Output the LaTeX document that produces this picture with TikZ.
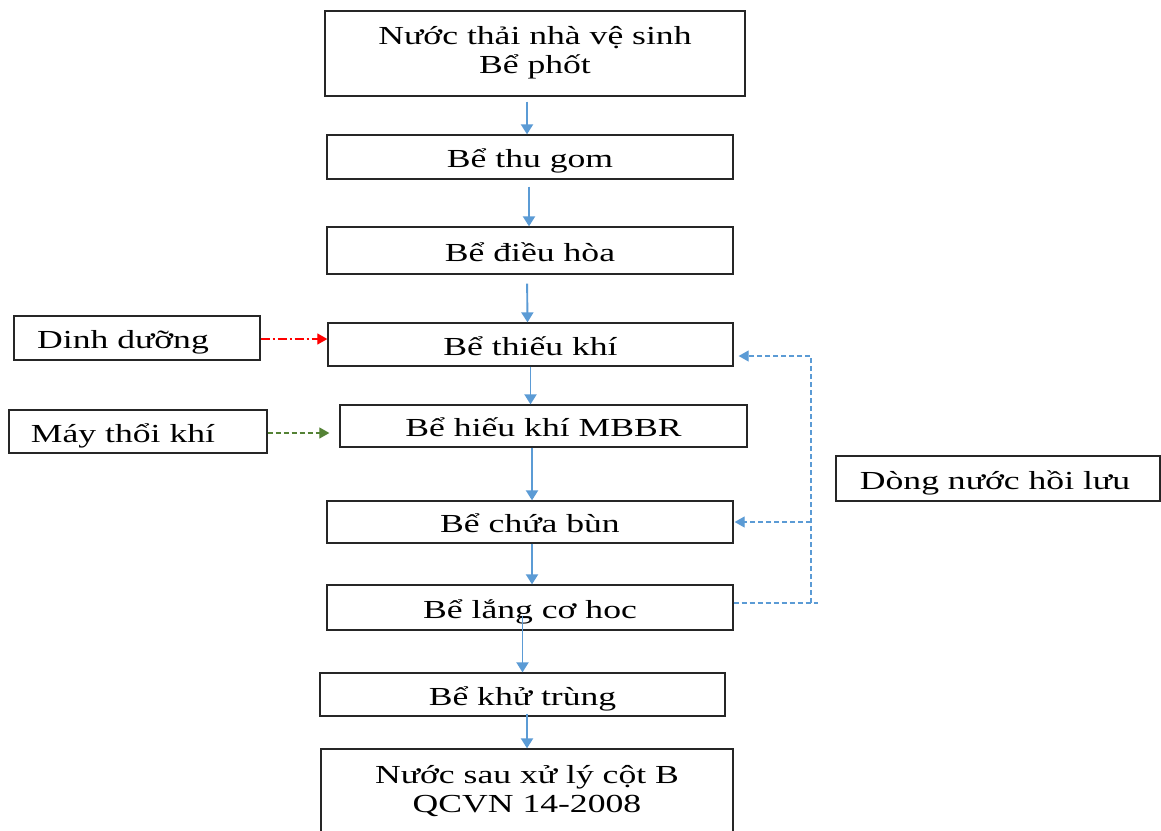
\documentclass[tikz,border=0pt]{standalone}
\usepackage{fontspec}
\usepackage{graphicx}
\setmainfont{Liberation Serif}
\usetikzlibrary{arrows.meta,calc}
\definecolor{flowblue}{HTML}{5B9BD5}
\definecolor{fbgreen}{HTML}{548235}
\newcommand{\wtxt}[1]{\scalebox{1.37}[1]{#1}}
\begin{document}
\begin{tikzpicture}[x=1pt,y=-1pt,
  box/.style={draw=black!85,line width=1.3pt,rectangle,inner sep=0pt,
    text height=21pt,text depth=0pt,align=center,
    font=\fontsize{26pt}{28.5pt}\selectfont},
  flow/.style={draw=flowblue,line width=1.9pt,-{Triangle[length=10pt,width=12pt]}},
  fb/.style={draw=flowblue,line width=1.1pt,dash pattern=on 5pt off 3pt},
  fbarrow/.style={fb,-{Triangle[length=10pt,width=11pt]}},
  redarrow/.style={draw=red,line width=1.2pt,dash pattern=on 9pt off 3pt on 2pt off 3pt,-{Triangle[length=10pt,width=11pt]}},
  greenarrow/.style={draw=fbgreen,line width=1.2pt,dash pattern=on 5pt off 3pt,-{Triangle[length=10pt,width=11pt]}}]
\useasboundingbox (0,0) rectangle (1161,830);
\clip (0,0) rectangle (1161,830);
\fill[white] (0,0) rectangle (1161,830);

\node[box,minimum width=420pt,minimum height=85pt,text height=49pt,text depth=10pt] (top) at (535,53.5)
  {\wtxt{Nước thải nhà vệ sinh}\\\wtxt{Bể phốt}};
\node[box,minimum width=406pt,minimum height=44pt] (tg) at (530,157) {\wtxt{Bể thu gom}};
\node[box,minimum width=406pt,minimum height=47pt] (dh) at (530,250.5) {\wtxt{Bể điều hòa}};
\node[box,minimum width=405pt,minimum height=43pt] (tk) at (530.5,344.5) {\wtxt{Bể thiếu khí}};
\node[box,minimum width=407pt,minimum height=42pt] (hk) at (543.5,426) {\wtxt{Bể hiếu khí MBBR}};
\node[box,minimum width=406pt,minimum height=42pt] (cb) at (530,522) {\wtxt{Bể chứa bùn}};
\node[box,minimum width=406pt,minimum height=45pt] (lang) at (530,607.5) {\wtxt{Bể lắng cơ hoc}};
\node[box,minimum width=405pt,minimum height=43pt] (khu) at (522.5,694.5) {\wtxt{Bể khử trùng}};
\node[box,minimum width=412pt,minimum height=107pt,text height=49pt,text depth=30pt] (fin) at (527,802.5)
  {\wtxt{Nước sau xử lý cột B}\\\wtxt{QCVN 14-2008}};

\node[box,minimum width=246pt,minimum height=44pt] (dd) at (137,338) {\wtxt{Dinh dưỡng}\hspace*{28pt}};
\node[box,minimum width=258pt,minimum height=43pt] (mt) at (138,431.5) {\wtxt{Máy thổi khí}\hspace*{30pt}};
\node[box,minimum width=324pt,minimum height=45pt] (dn) at (998,478.5) {\wtxt{Dòng nước hồi lưu}\hspace*{6pt}};

% main flow
\draw[flow,shorten <=5pt] ([xshift=-8pt]top.south) -- ([xshift=-3pt]tg.north);
\draw[flow,shorten <=7pt] ([xshift=-1pt]tg.south) -- ([xshift=-1pt]dh.north);
\draw[flow,shorten <=9pt] ([xshift=-3pt]dh.south) -- ([xshift=-3pt]tk.north);
\draw[flow] (tk.south) -- (tk.south |- hk.north);
\draw[flow] ([xshift=2pt]cb.north |- hk.south) -- ([xshift=2pt]cb.north);
\draw[flow] ([xshift=2pt]cb.south) -- ([xshift=2pt]lang.north);
\draw[flow,shorten <=-15pt] (khu.north |- lang.south) -- (khu.north);
\draw[flow,shorten <=-3pt] (fin.north |- khu.south) -- (fin.north);

% side inputs
\draw[redarrow] ([yshift=-1pt]dd.east) -- ([yshift=-1pt]dd.east -| tk.west);
\draw[greenarrow,shorten >=10pt] ([yshift=-1.5pt]mt.east) -- ([yshift=-1.5pt]mt.east -| hk.west);

% return flow
\coordinate (rb) at (811,603);
\coordinate (rt) at (811,356);
\coordinate (re) at (818,603);
\draw[fb] ([yshift=4.5pt]lang.east) -- (re);
\draw[fbarrow,shorten >=5pt] (rb) -- (rt) -- (tk.east |- rt);
\draw[fbarrow,shorten >=1pt] (rb |- cb.east) -- (cb.east);
\end{tikzpicture}
\end{document}
